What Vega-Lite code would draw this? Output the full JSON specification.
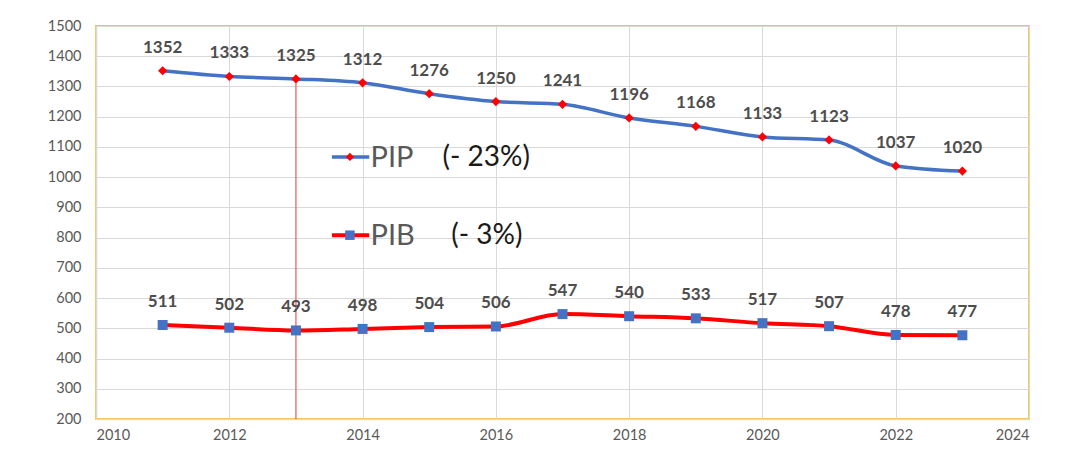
{
  "$schema": "https://vega.github.io/schema/vega-lite/v6.json",
  "width": 933,
  "height": 393,
  "autosize": {"type": "none"},
  "padding": {"left": 96, "top": 26, "right": 54, "bottom": 42},
  "background": "white",
  "config": {
    "font": "Lato",
    "view": {"stroke": "#f7c23c", "strokeWidth": 1.8},
    "axis": {
      "gridColor": "#d9d9d9",
      "gridWidth": 1,
      "domainColor": "#d9d9d9",
      "domainWidth": 1.5,
      "ticks": false,
      "labelColor": "#595959",
      "labelFontSize": 14.5,
      "labelFont": "Lato",
      "labelOverlap": false,
      "title": null
    }
  },
  "datasets": {
    "pip": [
      {"year": 2011, "value": 1352}, {"year": 2012, "value": 1333}, {"year": 2013, "value": 1325},
      {"year": 2014, "value": 1312}, {"year": 2015, "value": 1276}, {"year": 2016, "value": 1250},
      {"year": 2017, "value": 1241}, {"year": 2018, "value": 1196}, {"year": 2019, "value": 1168},
      {"year": 2020, "value": 1133}, {"year": 2021, "value": 1123}, {"year": 2022, "value": 1037},
      {"year": 2023, "value": 1020}
    ],
    "pib": [
      {"year": 2011, "value": 511}, {"year": 2012, "value": 502}, {"year": 2013, "value": 493},
      {"year": 2014, "value": 498}, {"year": 2015, "value": 504}, {"year": 2016, "value": 506},
      {"year": 2017, "value": 547}, {"year": 2018, "value": 540}, {"year": 2019, "value": 533},
      {"year": 2020, "value": 517}, {"year": 2021, "value": 507}, {"year": 2022, "value": 478},
      {"year": 2023, "value": 477}
    ],
    "marker": [{"year": 2013, "value": 1325, "bottom": 200}],
    "legendLines": [
      {"series": "PIP", "year": 2013.54, "end": 2014.1, "value": 1067},
      {"series": "PIB", "year": 2013.54, "end": 2014.1, "value": 808}
    ],
    "legendMarks": [
      {"series": "PIP", "year": 2013.81, "value": 1067},
      {"series": "PIB", "year": 2013.81, "value": 808}
    ],
    "legendText": [
      {"kind": "name", "year": 2014.12, "value": 1067, "label": "PIP"},
      {"kind": "pct", "year": 2015.2, "value": 1067, "label": "(- 23%)"},
      {"kind": "name", "year": 2014.12, "value": 808, "label": "PIB"},
      {"kind": "pct", "year": 2015.33, "value": 808, "label": "(- 3%)"}
    ]
  },
  "encoding": {
    "x": {"field": "year", "type": "quantitative", "scale": {"domain": [2010, 2024], "nice": false, "zero": false},
          "axis": {"values": [2010, 2012, 2014, 2016, 2018, 2020, 2022, 2024], "format": "d", "labelPadding": 9, "grid": true}},
    "y": {"field": "value", "type": "quantitative", "scale": {"domain": [200, 1500], "nice": false, "zero": false},
          "axis": {"values": [200, 300, 400, 500, 600, 700, 800, 900, 1000, 1100, 1200, 1300, 1400, 1500], "format": "d", "labelPadding": 15, "grid": true}}
  },
  "layer": [
    {
      "data": {"name": "marker"},
      "mark": {"type": "rule", "color": "#e35b5b", "strokeWidth": 1.2},
      "encoding": {"y2": {"field": "bottom"}}
    },
    {
      "data": {"name": "pip"},
      "mark": {"type": "line", "color": "#4472c4", "strokeWidth": 3.5, "interpolate": "monotone"},
      "encoding": {}
    },
    {
      "data": {"name": "pip"},
      "mark": {"type": "point", "shape": "diamond", "filled": true, "color": "#ff0000", "size": 85, "opacity": 1},
      "encoding": {}
    },
    {
      "data": {"name": "pip"},
      "mark": {"type": "text", "dy": -23, "fontSize": 17, "fontWeight": "bold", "color": "#4d4d4d", "font": "Lato"},
      "encoding": {"text": {"field": "value", "type": "quantitative", "format": "d"}}
    },
    {
      "data": {"name": "pib"},
      "mark": {"type": "line", "color": "#ff0000", "strokeWidth": 4, "interpolate": "monotone"},
      "encoding": {}
    },
    {
      "data": {"name": "pib"},
      "mark": {"type": "point", "shape": "square", "filled": true, "color": "#4472c4", "size": 100, "opacity": 1},
      "encoding": {}
    },
    {
      "data": {"name": "pib"},
      "mark": {"type": "text", "dy": -23, "fontSize": 17, "fontWeight": "bold", "color": "#4d4d4d", "font": "Lato"},
      "encoding": {"text": {"field": "value", "type": "quantitative", "format": "d"}}
    },
    {
      "data": {"name": "legendLines"},
      "transform": [{"filter": "datum.series === 'PIP'"}],
      "mark": {"type": "rule", "color": "#4472c4", "strokeWidth": 3.5},
      "encoding": {"x2": {"field": "end"}}
    },
    {
      "data": {"name": "legendMarks"},
      "transform": [{"filter": "datum.series === 'PIP'"}],
      "mark": {"type": "point", "shape": "diamond", "filled": true, "color": "#ff0000", "size": 70, "opacity": 1},
      "encoding": {}
    },
    {
      "data": {"name": "legendLines"},
      "transform": [{"filter": "datum.series === 'PIB'"}],
      "mark": {"type": "rule", "color": "#ff0000", "strokeWidth": 4},
      "encoding": {"x2": {"field": "end"}}
    },
    {
      "data": {"name": "legendMarks"},
      "transform": [{"filter": "datum.series === 'PIB'"}],
      "mark": {"type": "point", "shape": "square", "filled": true, "color": "#4472c4", "size": 90, "opacity": 1},
      "encoding": {}
    },
    {
      "data": {"name": "legendText"},
      "transform": [{"filter": "datum.kind === 'name'"}],
      "mark": {"type": "text", "align": "left", "baseline": "middle", "fontSize": 29, "color": "#595959", "font": "Lato", "dy": 1},
      "encoding": {"text": {"field": "label"}}
    },
    {
      "data": {"name": "legendText"},
      "transform": [{"filter": "datum.kind === 'pct'"}],
      "mark": {"type": "text", "align": "left", "baseline": "middle", "fontSize": 28, "color": "#1a1a1a", "font": "Lato", "dy": 1},
      "encoding": {"text": {"field": "label"}}
    }
  ]
}
